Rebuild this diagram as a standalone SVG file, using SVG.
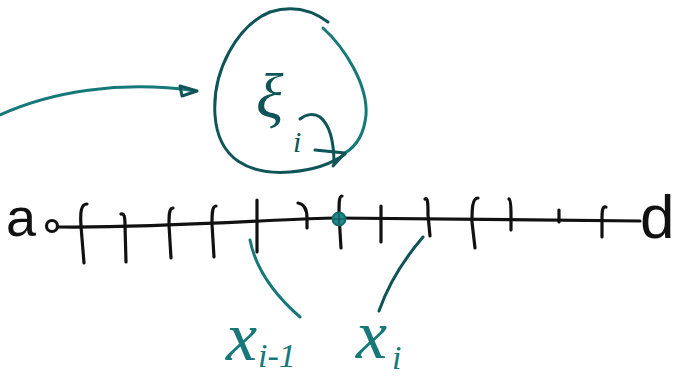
<svg xmlns="http://www.w3.org/2000/svg" width="675" height="376" viewBox="0 0 675 376">
<style>
.ink{fill:none;stroke:#111;stroke-width:3.2;stroke-linecap:round;stroke-linejoin:round}
.teal{fill:none;stroke:#17787a;stroke-width:3;stroke-linecap:round;stroke-linejoin:round}
.dteal{fill:none;stroke:#0f5458;stroke-width:3;stroke-linecap:round;stroke-linejoin:round}
.lbl{font-family:"Liberation Serif",serif;font-style:italic;fill:#17787a}
.blk{font-family:"Liberation Sans",sans-serif;fill:#111}
</style>
<rect width="675" height="376" fill="#fff"/>
<g id="axis">
<path class="ink" d="M58,227 C120,228 200,224 260,221 C300,219 320,218 335,218 C420,218 520,219 640,221"/>
<circle class="ink" cx="52" cy="226" r="5.5"/>
<text class="blk" x="6" y="236" font-size="54">a</text>
<text class="blk" x="640" y="238" font-size="62">d</text>
</g>
<g id="ticks">
<path class="ink" d="M87,204 C81,204 80,212 81,226 L84,263"/>
<path class="ink" d="M121,214 C124,213 125,216 125,225 L126,262"/>
<path class="ink" d="M173,208 C169,208 169,215 169,225 L171,258"/>
<path class="ink" d="M216,206 C212,206 212,214 212,224 L214,257"/>
<path class="ink" d="M257,200 L257,252"/>
<path class="ink" d="M298,203 C304,204 307,210 307,218 L307,228"/>
<path class="ink" d="M342,196 C339,196 339,203 339,215 L341,248"/>
<path class="ink" d="M381,206 L381,242"/>
<path class="ink" d="M425,199 C428,197 428,205 428,215 L430,236"/>
<path class="ink" d="M478,198 C472,198 472,210 472,222 L475,248"/>
<path class="ink" d="M509,199 C511,200 511,208 511,215 L511,230"/>
<path class="ink" d="M559,210 L559,222"/>
<path class="ink" d="M606,207 C602,206 602,212 602,220 L602,237"/>
</g>
<g id="point">
<circle cx="339" cy="219" r="6.5" fill="#1f8a8c" stroke="#14696b" stroke-width="2"/>
<path d="M334,219 L344,219 M339,214 L339,224" stroke="#0f4f52" stroke-width="1.2"/>
</g>
<g id="region">
<path class="dteal" d="M328,22 C312,10 292,5 270,12 C238,25 212,70 215,115 C218,160 250,175 290,172 C315,170 333,163 345,154"/>
<path class="teal" d="M323,28 C345,48 368,85 366,115 C364,135 355,147 345,153"/>
<text class="lbl" x="256" y="118" font-size="64" style="fill:#0f5458">ξ</text>
<text class="lbl" x="293" y="152" font-size="30" style="fill:#0f5458">i</text>
<path class="dteal" d="M300,119 C306,114 314,113 320,117 C330,125 334,140 334,164"/>
<path class="dteal" d="M315,150 L345,153 L333,166"/>
</g>
<g id="connectors">
<path class="teal" d="M0,115 C50,92 120,80 196,91"/>
<path class="dteal" d="M180,86 L182,96 L197,91 Z"/>
<path class="teal" d="M250,240 C256,270 276,296 300,317"/>
<path class="dteal" d="M423,237 C405,258 388,285 379,311"/>
</g>
<g id="label-xi1">
<text class="lbl" x="226" y="360" font-size="70">x</text>
<text class="lbl" x="258" y="367" font-size="34">i-1</text>
</g>
<g id="label-xi">
<text class="lbl" x="356" y="358" font-size="70">x</text>
<text class="lbl" x="392" y="369" font-size="34">i</text>
</g>
</svg>
